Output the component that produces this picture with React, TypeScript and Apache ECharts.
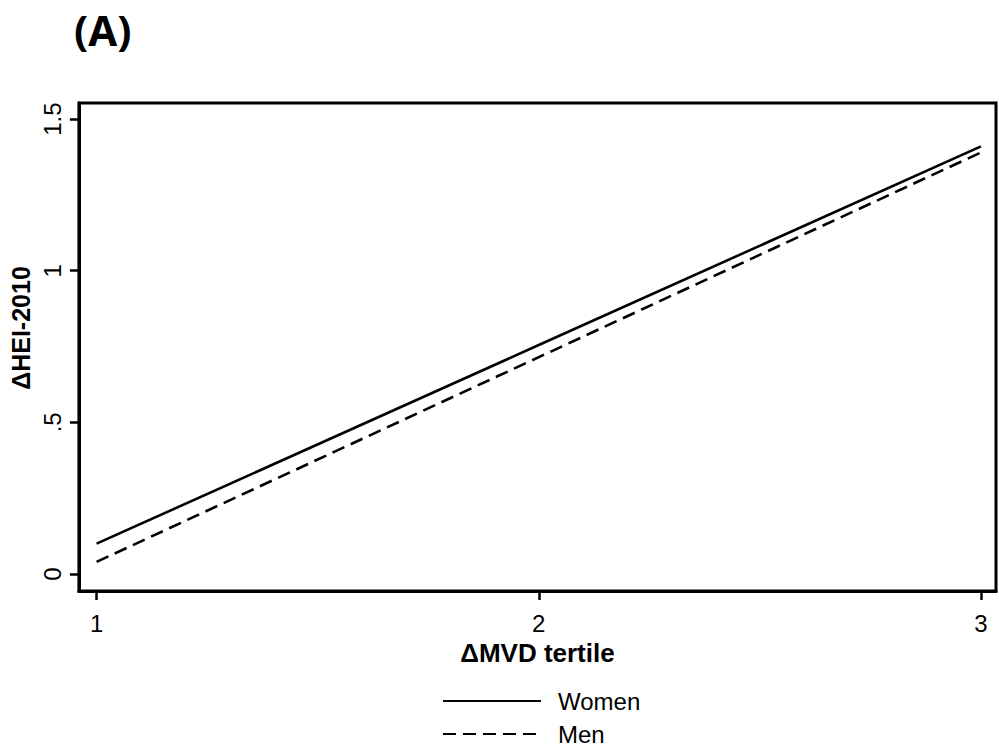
import React, { useEffect, useRef } from "react";
import * as echarts from "echarts";

const tertiles = [1, 2, 3];
const women = [0.1, 0.755, 1.41];
const men = [0.04, 0.715, 1.39];
const yTicks = [0, 0.5, 1, 1.5];
const yTickLabels = ["0", ".5", "1", "1.5"];
const seriesNames = ["Women", "Men"];

export default function App() {
  const ref = useRef<HTMLDivElement>(null);
  useEffect(() => {
    if (!ref.current) return;
    const chart = echarts.init(ref.current, null, { renderer: "svg" });
    const font = "'Liberation Sans', Arial, sans-serif";
    chart.setOption({
      animation: false,
      backgroundColor: "#fff",
      title: {
        text: "(A)",
        left: 74,
        top: 6,
        padding: 0,
        textStyle: { fontFamily: "'Open Sans', sans-serif", fontWeight: "bold", fontSize: 42, lineHeight: 46, color: "#000" },
      },
      grid: {
        left: 73,
        right: 3,
        top: 103,
        bottom: 165,
        show: true,
        borderColor: "#000",
        borderWidth: 3,
        backgroundColor: "#fff",
      },
      legend: {
        orient: "vertical",
        left: 442,
        top: 689,
        padding: 0,
        itemWidth: 98,
        itemHeight: 28,
        itemGap: 9,
        itemStyle: { color: "rgba(0,0,0,0)", borderWidth: 0, borderColor: "rgba(0,0,0,0)" },
        textStyle: { fontFamily: font, fontSize: 24, color: "#000", padding: [0, 0, 0, 12] },
        data: seriesNames,
      },
      xAxis: {
        type: "value",
        min: 0.96,
        max: 3.034,
        name: "ΔMVD tertile",
        nameLocation: "middle",
        nameGap: 45,
        nameTextStyle: { fontFamily: font, fontWeight: "bold", fontSize: 26, color: "#000" },
        axisLine: { show: true, onZero: false, lineStyle: { color: "#000", width: 3 } },
        axisTick: { show: true, customValues: tertiles, length: 9, lineStyle: { color: "#000", width: 2.5 } },
        axisLabel: { customValues: tertiles, fontFamily: font, fontSize: 24, color: "#000", margin: 20 },
        splitLine: { show: false },
      },
      yAxis: {
        type: "value",
        min: -0.056,
        max: 1.553,
        name: "ΔHEI-2010",
        nameLocation: "middle",
        nameGap: 40,
        nameTextStyle: {
          fontFamily: font,
          fontWeight: "bold",
          fontSize: 25,
          color: "#000",
          padding: [0, 0, 0, 38],
        },
        axisLine: { show: true, onZero: false, lineStyle: { color: "#000", width: 3 } },
        axisTick: { show: true, customValues: yTicks, length: 9, lineStyle: { color: "#000", width: 2.5 } },
        axisLabel: {
          customValues: yTicks,
          rotate: 90,
          fontFamily: font,
          fontSize: 24,
          color: "#000",
          margin: 14,
          formatter: (v: number) => {
            const i = yTicks.findIndex((t) => Math.abs(t - v) < 1e-6);
            return i >= 0 ? yTickLabels[i] : "";
          },
        },
        splitLine: { show: false },
      },
      series: [
        {
          name: seriesNames[0],
          type: "line",
          data: tertiles.map((x, i) => [x, women[i]]),
          symbol: "none",
          lineStyle: { color: "#000", width: 2.6, type: "solid" },
          itemStyle: { color: "#000" },
        },
        {
          name: seriesNames[1],
          type: "line",
          data: tertiles.map((x, i) => [x, men[i]]),
          symbol: "none",
          lineStyle: { color: "#000", width: 2.6, type: [13, 7] },
          itemStyle: { color: "#000" },
        },
      ],
    });
    return () => chart.dispose();
  }, []);
  return <div ref={ref} style={{ width: 999, height: 756, position: "absolute", left: 0, top: 0 }} />;
}
